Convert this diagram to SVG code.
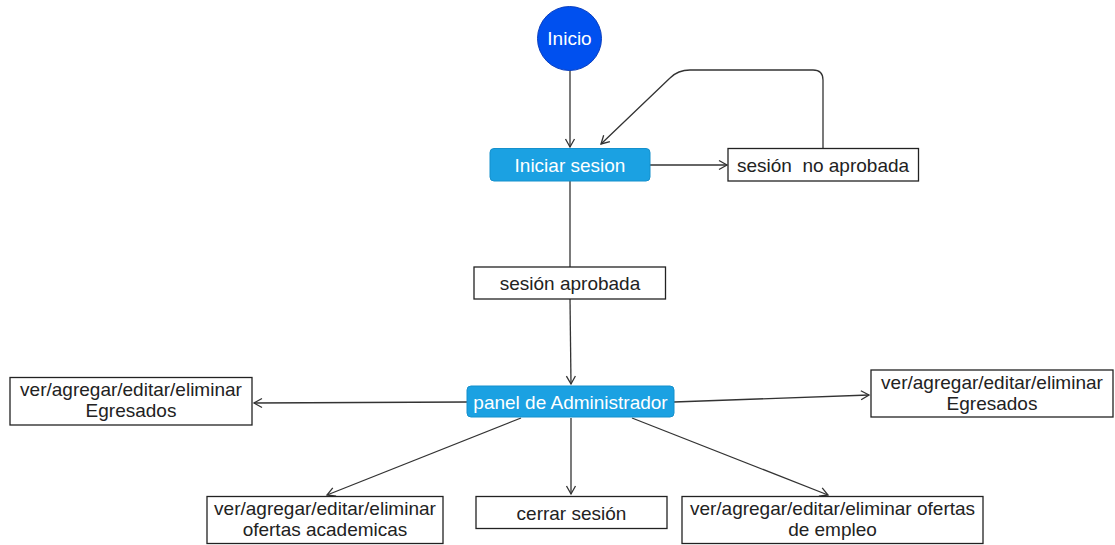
<svg xmlns="http://www.w3.org/2000/svg" width="1115" height="545" viewBox="0 0 1115 545">
<style>
.t{font-family:"Liberation Sans",Arial,sans-serif;font-size:19px;fill:#222;text-anchor:middle;white-space:pre}
.w{fill:#fff}
.box{fill:#fff;stroke:#222;stroke-width:1.3}
.blue{fill:#1ba1e2;stroke:#1590cc;stroke-width:1}
.c{fill:none;stroke:#333;stroke-width:1.3}
</style>
<defs>
<marker id="a" markerWidth="12" markerHeight="12" refX="10" refY="6" orient="auto" markerUnits="userSpaceOnUse">
<path d="M2,1.5 L10,6 L2,10.5" fill="none" stroke="#333" stroke-width="1.3"/>
</marker>
</defs>
<g id="connectors">
<path class="c" d="M570,70 L570,147" marker-end="url(#a)"/>
<path class="c" d="M650,165 L727,165" marker-end="url(#a)"/>
<path class="c" d="M823,148 L823,80 Q823,70 813,70 L690,70 Q678,70 670,78 L601,144" marker-end="url(#a)"/>
<path class="c" d="M570,181 L570,267"/>
<path class="c" d="M570,299 L571,384" marker-end="url(#a)"/>
<path class="c" d="M467,402 L254,403" marker-end="url(#a)"/>
<path class="c" d="M674,402 L869,395" marker-end="url(#a)"/>
<path class="c" d="M521,418 L327,495" marker-end="url(#a)"/>
<path class="c" d="M571,418 L571,494" marker-end="url(#a)"/>
<path class="c" d="M632,418 L828,495" marker-end="url(#a)"/>
</g>
<g id="inicio">
<circle cx="569.5" cy="38.5" r="32" fill="#0050ef" stroke="#0a3fc0" stroke-width="1"/>
<text class="t w" x="569.5" y="45">Inicio</text>
</g>
<g id="iniciar">
<rect class="blue" x="490" y="148.5" width="160" height="32.5" rx="4"/>
<text class="t w" x="570" y="171.5">Iniciar sesion</text>
</g>
<g id="noaprobada">
<rect class="box" x="728" y="148.5" width="190.5" height="32.5"/>
<text class="t" x="823" y="171.5">sesión  no aprobada</text>
</g>
<g id="aprobada">
<rect class="box" x="474" y="267" width="191.5" height="32"/>
<text class="t" x="570" y="290">sesión aprobada</text>
</g>
<g id="panel">
<rect class="blue" x="467" y="386" width="207" height="31" rx="4"/>
<text class="t w" x="570.5" y="408.5">panel de Administrador</text>
</g>
<g id="egresados-izq">
<rect class="box" x="10" y="377.5" width="242" height="47.5"/>
<text class="t" x="131" y="396">ver/agregar/editar/eliminar</text>
<text class="t" x="131" y="417">Egresados</text>
</g>
<g id="egresados-der">
<rect class="box" x="871" y="370" width="242" height="47"/>
<text class="t" x="992" y="388.5">ver/agregar/editar/eliminar</text>
<text class="t" x="992" y="409.5">Egresados</text>
</g>
<g id="academicas">
<rect class="box" x="207" y="496.5" width="236" height="47"/>
<text class="t" x="325" y="515">ver/agregar/editar/eliminar</text>
<text class="t" x="325" y="536">ofertas academicas</text>
</g>
<g id="cerrar">
<rect class="box" x="476" y="496.5" width="191" height="32"/>
<text class="t" x="571.5" y="519.5">cerrar sesión</text>
</g>
<g id="empleo">
<rect class="box" x="682" y="496.5" width="301" height="47"/>
<text class="t" x="832.5" y="515">ver/agregar/editar/eliminar ofertas</text>
<text class="t" x="832.5" y="536">de empleo</text>
</g>
</svg>
